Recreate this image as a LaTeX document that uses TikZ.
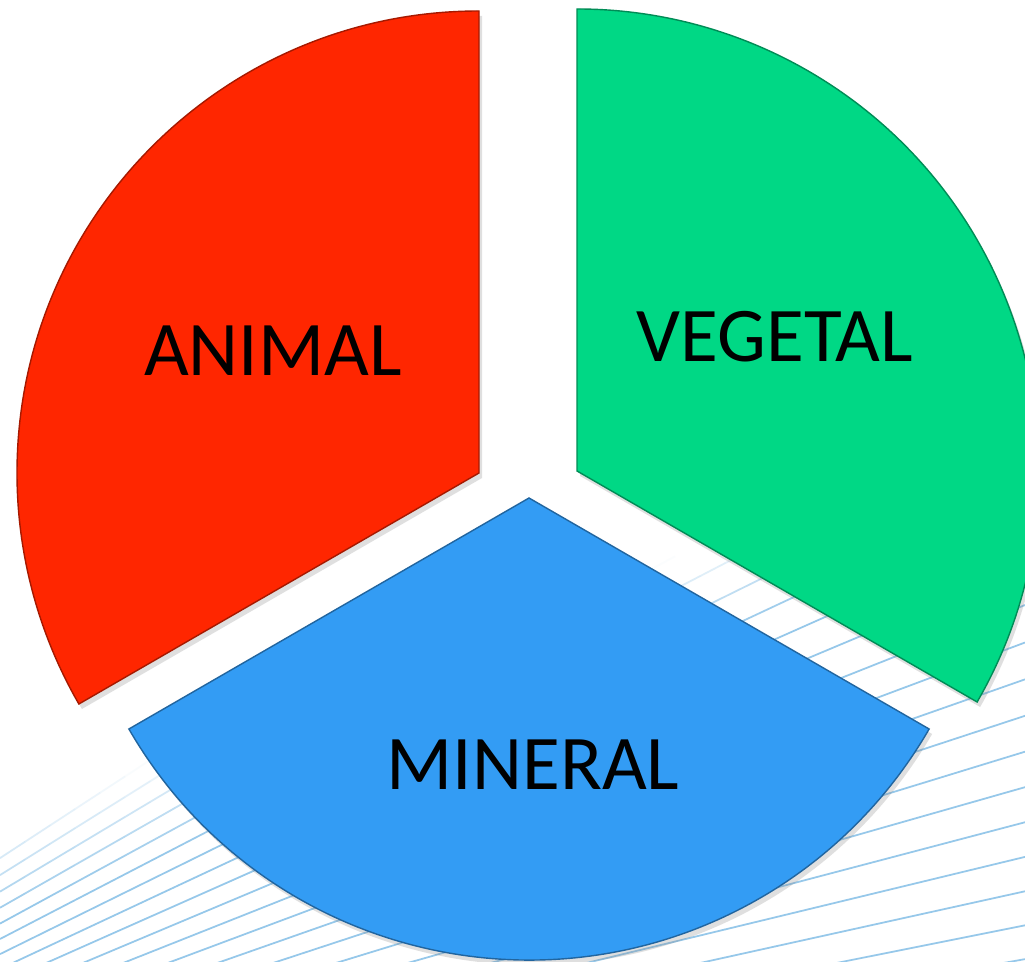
\documentclass[tikz,border=0pt]{standalone}
\usepackage{fontspec}
\setmainfont{Carlito}
\usepackage{xcolor}
\usepackage{tikz}
\usetikzlibrary{shadows}
\definecolor{realmred}{HTML}{FF2600}
\definecolor{realmgreen}{HTML}{00D885}
\definecolor{realmblue}{HTML}{339CF4}
\definecolor{realmline}{HTML}{96C8EA}
\tikzset{%
  realmsector/.style={%
    fill=#1,
    draw=#1!65!black,
    line width=0.4pt,
    drop shadow={shadow xshift=0.3mm,shadow yshift=-0.5mm,opacity=0.25}
  },
  realmlabel/.style={%
    inner sep=0pt,
    text=black,
    font=\fontsize{22}{26}\selectfont
  },
  realmwave/.style={draw=realmline,line width=0.5pt}
}
\begin{document}
\begin{tikzpicture}[x=0.01cm,y=0.01cm]
    \clip (0,0) rectangle (1025,961);
    \fill[white] (0,0) rectangle (1025,961);
    % faint fan of lines behind the pie
    \foreach \a in {9,10.15,...,34}{
      \foreach \x in {0,25,...,1000}{
        \pgfmathsetmacro{\ya}{-289+(\x+600)*tan(\a)}
        \pgfmathsetmacro{\yb}{-289+(\x+625)*tan(\a)}
        \pgfmathsetmacro{\op}{max(0,min(1,(141-\ya+0.39*\x)/100))}
        \draw[realmwave,draw opacity=\op] (\x,\ya) -- (\x+25,\yb);
      }
    }
    \coordinate (redtip) at (479,488);
    \coordinate (greentip) at (577,490);
    \coordinate (bluetip) at (529,463);

    \path[realmsector=realmred] (redtip) -- ++(90:462) arc[start angle=90,end angle=210,radius=462] -- cycle;
    \path[realmsector=realmgreen] (greentip) -- ++(-30:462) arc[start angle=-30,end angle=90,radius=462] -- cycle;
    \path[realmsector=realmblue] (bluetip) -- ++(210:462) arc[start angle=210,end angle=330,radius=462] -- cycle;

    \node[realmlabel] (animal) at (273,610) {ANIMAL};
    \node[realmlabel] (vegetal) at (775,624) {VEGETAL};
    \node[realmlabel] (mineral) at (533,196) {MINERAL};
\end{tikzpicture}
\end{document}
